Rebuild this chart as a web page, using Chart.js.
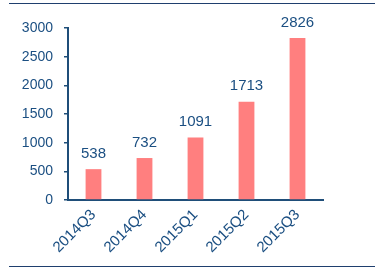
<!DOCTYPE html>
<html>
<head>
<meta charset="utf-8">
<script src="https://cdn.jsdelivr.net/npm/chart.js@4"></script>
<style>
  html, body { margin:0; padding:0; background:#fff; }
  #wrap { position:relative; width:384px; height:271px; }
  .rule { position:absolute; left:9px; width:366px; height:0; border-top:1.5px solid #1f3f6e; }
  canvas { position:absolute; left:0; top:0; }
</style>
</head>
<body>
<div id="wrap">
  <div class="rule" style="top:3px"></div>
  <div class="rule" style="top:266px"></div>
  <canvas id="c" width="384" height="271"></canvas>
</div>
<script>
const categories = ['2014Q3', '2014Q4', '2015Q1', '2015Q2', '2015Q3'];
const values = [538, 732, 1091, 1713, 2826];

const ink = '#1b4f82';
const axisCol = '#1f4e79';
const fontFam = '"Liberation Sans", Arial, sans-serif';

const barLabels = {
  id: 'barLabels',
  afterDatasetsDraw(chart){
    const ctx = chart.ctx;
    const meta = chart.getDatasetMeta(0);
    ctx.save();
    ctx.font = '15px ' + fontFam;
    ctx.fillStyle = ink;
    ctx.textAlign = 'center';
    ctx.textBaseline = 'bottom';
    meta.data.forEach((bar, i) => {
      ctx.fillText(String(values[i]), bar.x, bar.y - 8);
    });
    ctx.restore();
  }
};

new Chart(document.getElementById('c'), {
  type: 'bar',
  data: {
    labels: categories,
    datasets: [{
      data: values,
      backgroundColor: '#ff7f7f',
      borderWidth: 0,
      categoryPercentage: 1,
      barPercentage: 0.31
    }]
  },
  options: {
    responsive: false,
    animation: false,
    devicePixelRatio: 1,
    layout: { padding: { left: 0, right: 61, top: 28, bottom: 0 } },
    plugins: { legend: { display: false }, tooltip: { enabled: false } },
    scales: {
      x: {
        grid: { display: false, drawTicks: false },
        border: { display: true, color: axisCol, width: 2 },
        ticks: {
          color: ink,
          font: { family: fontFam, size: 15 },
          maxRotation: 45, minRotation: 45,
          padding: 6
        },
        afterFit(s){ s.height = 71; }
      },
      y: {
        min: 0, max: 3000,
        grid: { display: true, drawOnChartArea: false, drawTicks: true, tickLength: 4, color: axisCol, lineWidth: 1.5 },
        border: { display: true, color: axisCol, width: 2 },
        ticks: {
          stepSize: 500,
          color: ink,
          font: { family: fontFam, size: 14 },
          padding: 11,
          callback: v => String(v)
        },
        afterFit(s){ s.width = 68; }
      }
    }
  },
  plugins: [barLabels]
});
</script>
</body>
</html>
